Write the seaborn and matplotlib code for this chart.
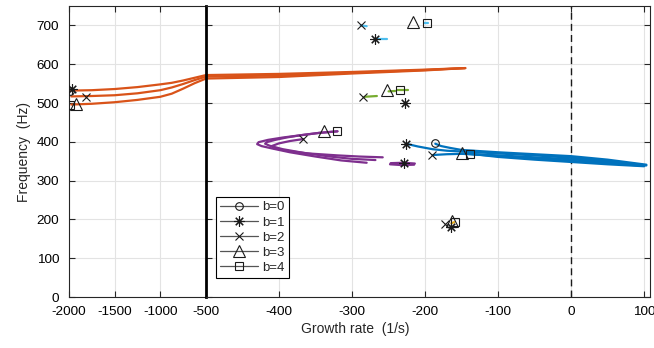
import matplotlib
matplotlib.use("Agg")
import matplotlib.pyplot as plt
import seaborn as sns
from matplotlib.lines import Line2D

sns.set_theme(style="ticks")
plt.rcParams["font.family"] = ["Liberation Sans", "DejaVu Sans"]
plt.rcParams["axes.unicode_minus"] = False

BLUE, ORANGE, YELLOW = "#0072BD", "#D95319", "#EDB120"
PURPLE, GREEN, CYAN = "#7E2F8E", "#77AC30", "#4DBEEE"

# ---------------- data ----------------
# orange branch (spans both panels)
orange_x = [-1975, -1750, -1500, -1250, -1000, -875, -750, -625, -500, -400, -300, -200, -145]
orange1_y = [532, 533, 536, 541, 548, 552, 558, 565, 572, 575, 580, 586, 590]
orange2_y = [517, 518, 520, 525, 533, 540, 549, 559, 568, 571, 578, 585, 590]
orange3_y = [496, 498, 502, 508, 516, 524, 537, 551, 563, 567, 576, 584, 590]

# blue branch
blue0_x = [-186, -178, -165, -150, -100, -50, 0, 50, 103]
blue0_y = [395, 389, 384, 379, 373, 368, 363, 354, 341]
blue1_x = [-226, -210, -190, -170, -150, -100, -50, 0, 50, 103]
blue1_y = [395, 388, 381, 377, 375, 370, 365, 359, 351, 339]
blue2_x = [-189, -170, -150, -100, -50, 0, 50, 100]
blue2_y = [366, 368, 369, 365, 360, 355, 348, 339]
blue3_x = [-150, -100, -50, 0, 50, 100]
blue3_y = [370, 363, 357, 351, 345, 338]
blue4_x = [-138, -100, -50, 0, 50, 100]
blue4_y = [369, 361, 354, 348, 342, 337]

# purple branch (loops)
purple1_x = [-320, -345, -370, -395, -415, -428, -430, -424, -410, -385, -350, -315, -280]
purple1_y = [427, 423, 417, 411, 405, 399, 394, 389, 383, 373, 362, 352, 346]
purple2_x = [-320, -345, -370, -390, -405, -417, -419, -413, -395, -365, -330, -300, -268]
purple2_y = [427, 423, 417, 411, 405, 399, 395, 390, 381, 371, 362, 356, 353]
purple3_x = [-367, -385, -400, -410, -408, -390, -360, -320, -290, -258]
purple3_y = [407, 402, 396, 389, 384, 377, 370, 365, 362, 360]
purple4_x = [-214, -230, -247, -248, -232, -215]
purple4_y = [344, 346, 345, 342, 340, 341]

# green short segments
green1_x = [-283, -266]
green1_y = [516, 518]
green2_x = [-250, -241]
green2_y = [530, 531]
green3_x = [-239, -223]
green3_y = [533, 533]
green4_x = [-228, -226]
green4_y = [499, 499]

# light-blue short segments
cyan1_x = [-288, -280]
cyan1_y = [700, 698]
cyan2_x = [-268, -252]
cyan2_y = [666, 666]
cyan3_x = [-202, -196]
cyan3_y = [707, 707]

# yellow short segment
yellow1_x = [-164, -160]
yellow1_y = [190, 193]

# start markers for each b
b0_x = [-1990, -186]
b0_y = [531, 397]
b1_x = [-1967, -226, -268, -227, -229, -164]
b1_y = [535, 395, 666, 499, 345, 180]
b2_x = [-1817, -190, -288, -285, -367, -173]
b2_y = [516, 365, 700, 516, 407, 189]
b3_x = [-1923, -150, -216, -252, -338, -163]
b3_y = [497, 371, 709, 533, 429, 197]
b4_x = [-1990, -138, -197, -234, -320, -159]
b4_y = [495, 369, 707, 533, 428, 193]

legend_labels = ["b=0", "b=1", "b=2", "b=3", "b=4"]

curves = [
    (orange_x, orange1_y, ORANGE), (orange_x, orange2_y, ORANGE), (orange_x, orange3_y, ORANGE),
    (blue0_x, blue0_y, BLUE), (blue1_x, blue1_y, BLUE), (blue2_x, blue2_y, BLUE),
    (blue3_x, blue3_y, BLUE), (blue4_x, blue4_y, BLUE),
    (purple1_x, purple1_y, PURPLE), (purple2_x, purple2_y, PURPLE),
    (purple3_x, purple3_y, PURPLE), (purple4_x, purple4_y, PURPLE),
    (green1_x, green1_y, GREEN), (green2_x, green2_y, GREEN),
    (green3_x, green3_y, GREEN), (green4_x, green4_y, GREEN),
    (cyan1_x, cyan1_y, CYAN), (cyan2_x, cyan2_y, CYAN), (cyan3_x, cyan3_y, CYAN),
    (yellow1_x, yellow1_y, YELLOW),
]
marker_sets = [
    (b0_x, b0_y, "o", 5.5),
    (b1_x, b1_y, (8, 2, 0), 7.5),
    (b2_x, b2_y, "x", 5.5),
    (b3_x, b3_y, "^", 8),
    (b4_x, b4_y, "s", 6),
]

# ---------------- figure ----------------
fig = plt.figure(figsize=(6.54, 3.48), dpi=100)
axL = fig.add_axes([69 / 654, 1 - 297 / 348, 137 / 654, 291 / 348])
axR = fig.add_axes([206 / 654, 1 - 297 / 348, 444 / 654, 291 / 348], sharey=axL)

axL.set_xlim(-2000, -500)
axR.set_xlim(-500, 108)
axL.set_ylim(0, 750)

for ax in (axL, axR):
    ax.grid(True, color="#e3e3e3", lw=0.8)
    ax.set_axisbelow(True)
    for sp in ax.spines.values():
        sp.set_color("#262626")
        sp.set_linewidth(0.8)

axR.axvline(0, color="k", ls=(0, (5, 3)), lw=1.0, zorder=1.5)

for xs, ys, c in curves:
    for ax in (axL, axR):
        sns.lineplot(x=xs, y=ys, sort=False, estimator=None, color=c, lw=1.6,
                     ax=ax, legend=False, zorder=2)

for xs, ys, m, ms in marker_sets:
    for ax in (axL, axR):
        sns.lineplot(x=xs, y=ys, sort=False, estimator=None, ls="", marker=m,
                     ms=ms, mfc="none", mec="k", mew=0.8, color="k",
                     ax=ax, legend=False, zorder=3)

axL.set_xticks([-2000, -1500, -1000, -500])
axL.set_yticks(range(0, 701, 100))
axR.set_xticks([-400, -300, -200, -100, 0, 100])
axR.set_yticks(range(0, 701, 100))
axL.tick_params(direction="in", top=True, right=False, length=4, width=0.8,
                labelsize=9.7, pad=6.5, colors="#262626", labelcolor="black")
axL.tick_params(axis="y", pad=7)
axR.tick_params(direction="in", top=True, right=True, left=True, length=4, width=0.8,
                labelsize=9.7, pad=6.5, colors="#262626", labelcolor="black",
                labelleft=False)
axL.spines["right"].set_visible(False)
axR.spines["left"].set_linewidth(2.0)
axR.spines["left"].set_color("black")

axL.set_ylabel("Frequency  (Hz)", fontsize=10, labelpad=4)
axL.set_xlabel("")
axR.set_xlabel("")
fig.text(355 / 654, 1 - 329 / 348, "Growth rate  (1/s)", ha="center", va="center", fontsize=10)

handles = [Line2D([], [], color="#555555", lw=0.9, marker=m, ms=ms, mfc="none",
                  mec="k", mew=0.8) for _, _, m, ms in marker_sets]
leg = axR.legend(handles, legend_labels, loc="lower left",
                 bbox_to_anchor=(10 / 444, 19 / 291), borderaxespad=0,
                 fontsize=9.5, handlelength=2.9, handletextpad=0.3,
                 labelspacing=0.22, borderpad=0.3, fancybox=False,
                 framealpha=1, edgecolor="black")
leg.get_frame().set_linewidth(0.8)

fig.savefig("out.png", dpi=100)
